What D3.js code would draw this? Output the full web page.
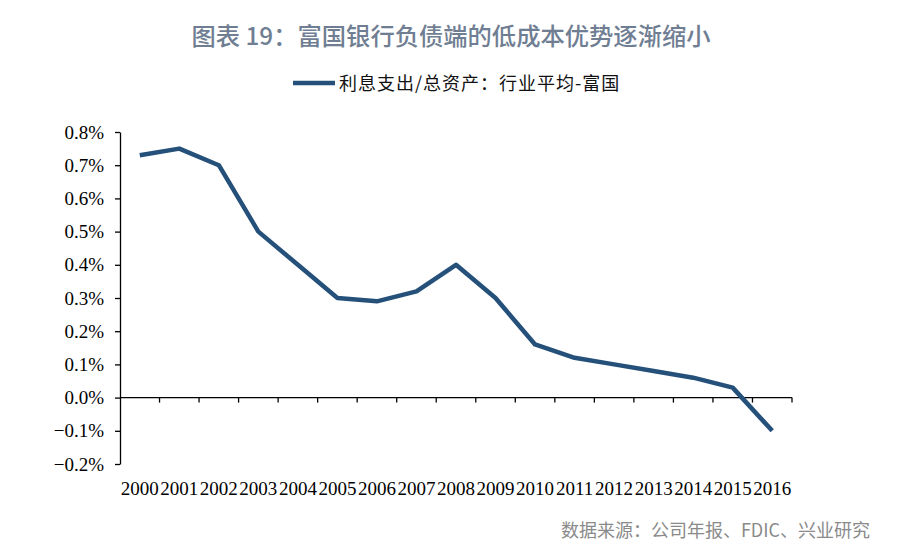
<!DOCTYPE html>
<html><head><meta charset="utf-8">
<script src="https://cdn.jsdelivr.net/npm/d3@7"></script>
<style>body{margin:0;background:#fff;}svg{display:block;}</style>
</head><body><svg id="c" width="900" height="554"></svg>
<script>
const years = ["2000","2001","2002","2003","2004","2005","2006","2007","2008","2009","2010","2011","2012","2013","2014","2015","2016"];
const values = [0.73,0.75,0.70,0.50,0.40,0.30,0.29,0.32,0.40,0.30,0.16,0.12,0.10,0.08,0.06,0.03,-0.10];
const yTicks = [-0.2,-0.1,0,0.1,0.2,0.3,0.4,0.5,0.6,0.7,0.8];
const titleText = "图表 19：富国银行负债端的低成本优势逐渐缩小";
const legendText = "利息支出/总资产：行业平均-富国";
const sourceText = "数据来源：公司年报、FDIC、兴业研究";

const svg = d3.select("#c");
const lineColor = "#24507a";
const x = d3.scaleBand().domain(years).range([120, 792]);
const y = d3.scaleLinear().domain([-0.2, 0.8]).range([464, 132]);

svg.append("text").attr("x", 451).attr("y", 45).attr("text-anchor","middle")
  .attr("font-family","'Noto Sans CJK SC'").attr("font-weight",500).attr("font-size",24.3)
  .attr("fill","#6f7e92").text(titleText);

svg.append("line").attr("x1",293).attr("x2",335).attr("y1",83).attr("y2",83)
  .attr("stroke",lineColor).attr("stroke-width",4.5);
svg.append("text").attr("x",339).attr("y",89.5)
  .attr("font-family","'Noto Sans CJK SC'").attr("font-size",18).attr("letter-spacing",1)
  .attr("fill","#111").text(legendText);

// y axis
const yAxis = d3.axisLeft(y).tickValues(yTicks).tickSize(5).tickSizeOuter(0)
  .tickFormat(d => d3.format(".1f")(d) + "%");
const gy = svg.append("g").attr("transform","translate(120,0)").call(yAxis);
gy.selectAll("text").attr("font-family","'Liberation Serif'").attr("font-size",19).attr("fill","#000").attr("x",-16);
gy.selectAll("line,path").attr("stroke","#000").attr("stroke-width",1.3);

// x axis at zero
const gx = svg.append("g").attr("transform",`translate(0,${y(0)})`);
gx.append("line").attr("x1",120).attr("x2",792).attr("stroke","#000").attr("stroke-width",1.3);
const bounds = years.map(d => x(d)).concat([x.range()[1]]);
gx.selectAll("line.t").data(bounds.slice(1)).join("line").attr("class","t")
  .attr("x1",d=>d).attr("x2",d=>d).attr("y1",0).attr("y2",5).attr("stroke","#000").attr("stroke-width",1.3);
svg.append("g").selectAll("text").data(years).join("text")
  .attr("x", d => x(d) + x.bandwidth()/2).attr("y", 495).attr("text-anchor","middle")
  .attr("font-family","'Liberation Serif'").attr("font-size",19).attr("fill","#000").text(d=>d);

const line = d3.line().x((d,i)=>x(years[i]) + x.bandwidth()/2).y(d=>y(d));
svg.append("path").datum(values).attr("d", line).attr("fill","none")
  .attr("stroke",lineColor).attr("stroke-width",4.5).attr("stroke-linejoin","round");

svg.append("text").attr("x",870).attr("y",537).attr("text-anchor","end")
  .attr("font-family","'Noto Sans CJK SC'").attr("font-size",18).attr("fill","#8a8a8a")
  .text(sourceText);
</script></body></html>
